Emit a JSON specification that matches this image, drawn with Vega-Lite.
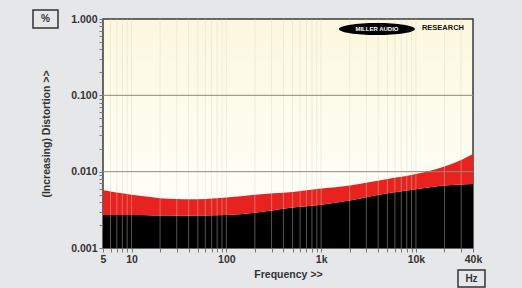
{
  "$schema": "https://vega.github.io/schema/vega-lite/v6.json",
  "width": 370,
  "height": 229,
  "autosize": {"type": "none"},
  "padding": {"left": 103, "top": 19, "right": 49, "bottom": 40},
  "background": "#e6e7e9",
  "config": {
    "font": "Liberation Sans",
    "view": {
      "stroke": "#3a3a3a",
      "strokeWidth": 1.5,
      "fill": {"gradient": "linear", "x1": 0, "y1": 0, "x2": 0, "y2": 1,
        "stops": [{"offset": 0, "color": "#fcf8de"}, {"offset": 0.6, "color": "#fefdf2"}, {"offset": 1, "color": "#ffffff"}]}
    },
    "axis": {
      "labelFontWeight": "bold",
      "labelFontSize": 10.5,
      "labelColor": "#333333",
      "titleFontWeight": "bold",
      "titleFontSize": 10.5,
      "titleColor": "#333333",
      "tickSize": 4,
      "tickColor": "#777777",
      "domain": false,
      "grid": false,
      "labelOverlap": false,
      "labelFlush": false
    }
  },
  "datasets": {
    "thd": [
      {"freq": 5, "red": 0.0057, "black": 0.0027},
      {"freq": 6, "red": 0.0055, "black": 0.0027},
      {"freq": 8, "red": 0.0052, "black": 0.0027},
      {"freq": 10, "red": 0.0050, "black": 0.0027},
      {"freq": 15, "red": 0.0047, "black": 0.00268},
      {"freq": 20, "red": 0.0045, "black": 0.00266},
      {"freq": 30, "red": 0.0044, "black": 0.00265},
      {"freq": 40, "red": 0.00435, "black": 0.00265},
      {"freq": 60, "red": 0.0044, "black": 0.00266},
      {"freq": 100, "red": 0.0046, "black": 0.0027},
      {"freq": 200, "red": 0.0050, "black": 0.0029},
      {"freq": 500, "red": 0.0054, "black": 0.0034},
      {"freq": 1000, "red": 0.0060, "black": 0.0037},
      {"freq": 2000, "red": 0.0066, "black": 0.0042},
      {"freq": 5000, "red": 0.0080, "black": 0.0052},
      {"freq": 10000, "red": 0.0093, "black": 0.0059},
      {"freq": 20000, "red": 0.0117, "black": 0.0066},
      {"freq": 30000, "red": 0.0142, "black": 0.0068},
      {"freq": 40000, "red": 0.0170, "black": 0.0069}
    ],
    "vgrid": [
      {"freq": 6}, {"freq": 7}, {"freq": 8}, {"freq": 9}, {"freq": 10},
      {"freq": 20}, {"freq": 30}, {"freq": 40}, {"freq": 50}, {"freq": 60}, {"freq": 70}, {"freq": 80}, {"freq": 90}, {"freq": 100},
      {"freq": 200}, {"freq": 300}, {"freq": 400}, {"freq": 500}, {"freq": 600}, {"freq": 700}, {"freq": 800}, {"freq": 900}, {"freq": 1000},
      {"freq": 2000}, {"freq": 3000}, {"freq": 4000}, {"freq": 5000}, {"freq": 6000}, {"freq": 7000}, {"freq": 8000}, {"freq": 9000}, {"freq": 10000},
      {"freq": 20000}, {"freq": 30000}
    ]
  },
  "layer": [
    {
      "data": {"name": "thd"},
      "mark": {"type": "area", "color": "#000000", "interpolate": "monotone"},
      "encoding": {
        "x": {
          "field": "freq", "type": "quantitative",
          "scale": {"type": "log", "domain": [5, 40000], "nice": false},
          "axis": {
            "title": "Frequency >>",
            "titlePadding": 5,
            "labelPadding": 2,
            "values": [5,6,7,8,9,10,20,30,40,50,60,70,80,90,100,200,300,400,500,600,700,800,900,1000,2000,3000,4000,5000,6000,7000,8000,9000,10000,20000,30000,40000],
            "labelExpr": "indexof([5,10,100,1000,10000,40000], datum.value) >= 0 ? (datum.value >= 1000 ? (datum.value/1000) + 'k' : '' + datum.value) : ''"
          }
        },
        "y": {
          "field": "black", "type": "quantitative",
          "scale": {"type": "log", "domain": [0.001, 1], "nice": false},
          "axis": {
            "title": "(Increasing) Distortion >>",
            "titlePadding": 19,
            "labelPadding": 2,
            "values": [0.001,0.002,0.003,0.004,0.005,0.006,0.007,0.008,0.009,0.01,0.02,0.03,0.04,0.05,0.06,0.07,0.08,0.09,0.1,0.2,0.3,0.4,0.5,0.6,0.7,0.8,0.9,1],
            "labelExpr": "indexof([0.001,0.01,0.1,1], datum.value) >= 0 ? format(datum.value, '.3f') : ''"
          }
        },
        "y2": {"datum": 0.001}
      }
    },
    {
      "data": {"name": "thd"},
      "mark": {"type": "area", "color": "#e8231f", "interpolate": "monotone"},
      "encoding": {
        "x": {"field": "freq", "type": "quantitative"},
        "y": {"field": "red", "type": "quantitative"},
        "y2": {"field": "black"}
      }
    },
    {
      "data": {"name": "vgrid"},
      "mark": {"type": "rule", "color": "#d8d6c8", "opacity": 0.4, "strokeWidth": 1},
      "encoding": {"x": {"field": "freq", "type": "quantitative"}, "y": {"datum": 1}, "y2": {"datum": 0.001}}
    },
    {
      "data": {"values": [{"level": 0.01}, {"level": 0.1}]},
      "mark": {"type": "rule", "color": "#8e8b76", "strokeWidth": 1},
      "encoding": {"y": {"field": "level", "type": "quantitative"}}
    },
    {
      "data": {"values": [{}]},
      "mark": {"type": "point", "shape": "M-1,0A1,0.16 0 1,0 1,0A1,0.16 0 1,0 -1,0Z", "filled": true, "color": "#000000", "opacity": 1, "size": 5776},
      "encoding": {"x": {"datum": 3880}, "y": {"datum": 0.74}}
    },
    {
      "data": {"values": [{}]},
      "mark": {"type": "text", "text": "MILLER AUDIO", "color": "#ffffff", "fontWeight": "bold", "fontSize": 6, "align": "center", "baseline": "middle"},
      "encoding": {"x": {"datum": 3880}, "y": {"datum": 0.74}}
    },
    {
      "data": {"values": [{}]},
      "mark": {"type": "text", "text": "RESEARCH", "color": "#111111", "fontWeight": "bold", "fontSize": 7.5, "align": "center", "baseline": "middle"},
      "encoding": {"x": {"datum": 19300}, "y": {"datum": 0.76}}
    },
    {
      "data": {"values": [{}]},
      "mark": {"type": "point", "shape": "M-1,-0.72H1V0.72H-1Z", "filled": false, "stroke": "#333333", "strokeWidth": 1.5, "opacity": 1, "size": 625},
      "encoding": {"x": {"datum": 1.237}, "y": {"datum": 1}}
    },
    {
      "data": {"values": [{}]},
      "mark": {"type": "text", "text": "%", "color": "#333333", "fontWeight": "bold", "fontSize": 10, "align": "center", "baseline": "middle"},
      "encoding": {"x": {"datum": 1.237}, "y": {"datum": 1}}
    },
    {
      "data": {"values": [{}]},
      "mark": {"type": "point", "shape": "M-1,-0.63H1V0.63H-1Z", "filled": false, "stroke": "#333333", "strokeWidth": 1.5, "opacity": 1, "size": 729},
      "encoding": {"x": {"datum": 38560}, "y": {"datum": 0.000398}}
    },
    {
      "data": {"values": [{}]},
      "mark": {"type": "text", "text": "Hz", "color": "#333333", "fontWeight": "bold", "fontSize": 10, "align": "center", "baseline": "middle"},
      "encoding": {"x": {"datum": 38560}, "y": {"datum": 0.000398}}
    }
  ]
}
